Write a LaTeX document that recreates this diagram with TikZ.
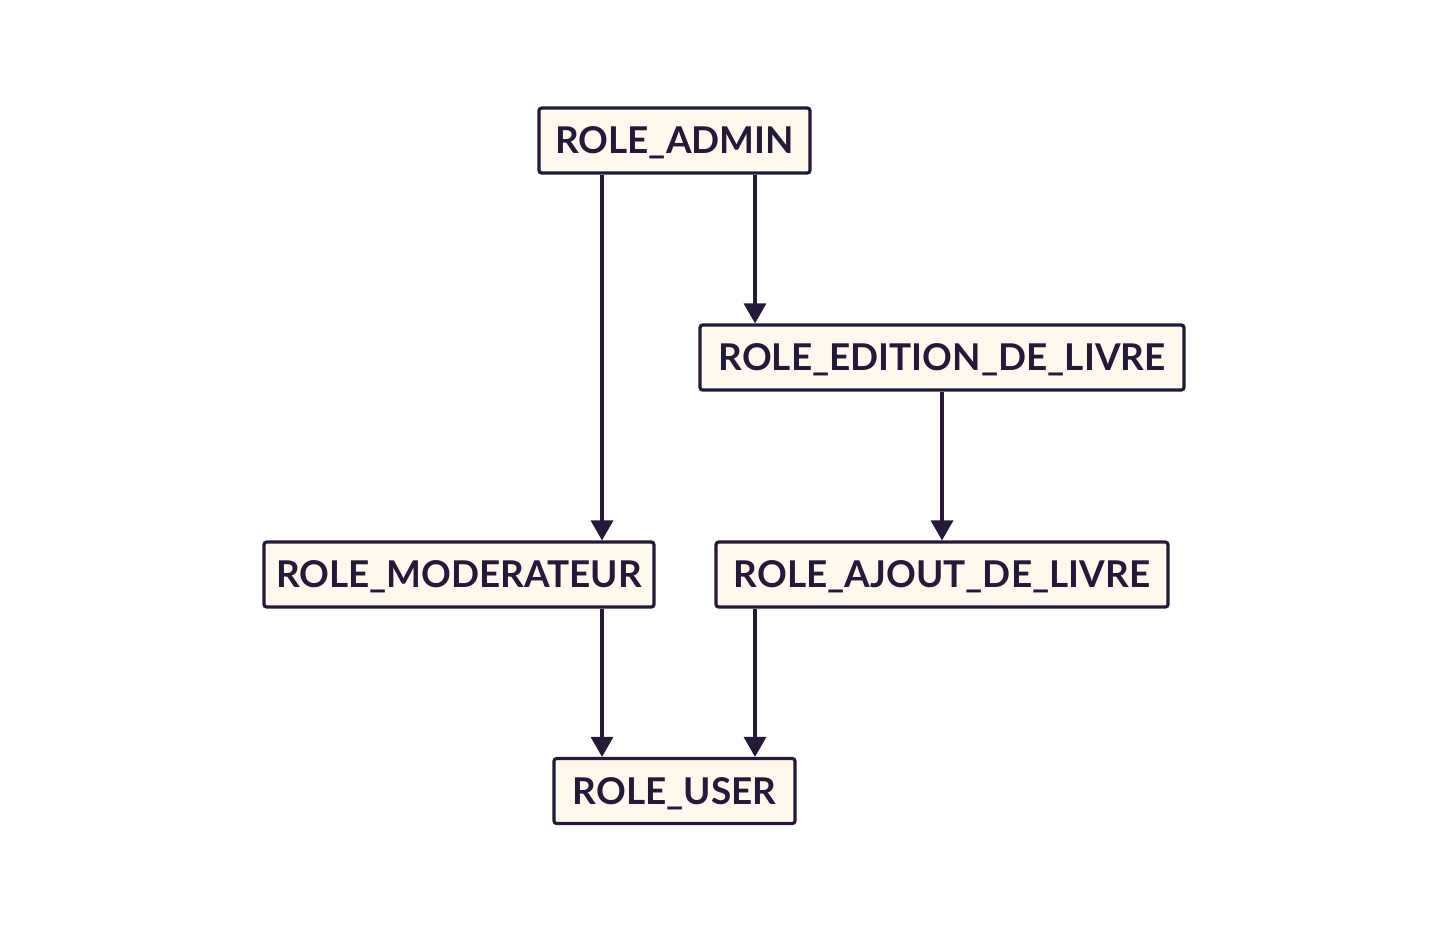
\documentclass[tikz,border=0pt]{standalone}
\usepackage{fontspec}
\setmainfont{Lato}
\usepackage{tikz}
\usetikzlibrary{arrows.meta}

\definecolor{roleink}{HTML}{241A38}
\definecolor{rolefill}{HTML}{FFF8EE}

\begin{document}
\begin{tikzpicture}[
  role/.style={draw=roleink,fill=rolefill,line width=1.8pt,rounded corners=1.5pt,
               minimum height=1.3cm,inner sep=0pt,text=roleink,
               text height=15pt,text depth=0pt,
               font=\fontsize{21}{26}\selectfont\bfseries},
  arr/.style={-{Triangle[length=0.4cm,width=0.44cm]},line width=1.8pt,roleink}]

  \useasboundingbox (0,0) rectangle (28.96,-18.64);

  \node[role,minimum width=5.42cm] (admin)   at (13.49,-2.81)  {ROLE\_ADMIN};
  \node[role,minimum width=9.68cm] (edition) at (18.84,-7.15)  {ROLE\_EDITION\_DE\_LIVRE};
  \node[role,minimum width=7.80cm] (moder)   at (9.18,-11.49)  {ROLE\_MODERATEUR};
  \node[role,minimum width=9.04cm] (ajout)   at (18.84,-11.49) {ROLE\_AJOUT\_DE\_LIVRE};
  \node[role,minimum width=4.82cm] (user)    at (13.49,-15.82) {ROLE\_USER};

  % columns of the arrows
  \coordinate (lcol) at (12.04,0);
  \coordinate (rcol) at (15.10,0);

  \draw[arr] (admin.south -| lcol) -- (moder.north -| lcol);
  \draw[arr] (admin.south -| rcol) -- (edition.north -| rcol);
  \draw[arr] (edition) -- (ajout);
  \draw[arr] (moder.south -| lcol) -- (user.north -| lcol);
  \draw[arr] (ajout.south -| rcol) -- (user.north -| rcol);
\end{tikzpicture}
\end{document}
